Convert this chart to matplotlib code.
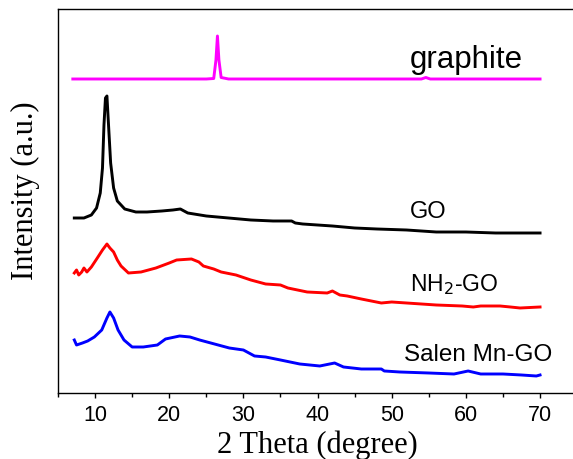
import matplotlib
matplotlib.use("Agg")
import matplotlib.pyplot as plt
from matplotlib.ticker import MultipleLocator

# XRD patterns, 2 theta (degree) vs intensity (a.u., curves stacked with offsets)
graphite_x = [7, 10, 15, 20, 25, 26.0, 26.3, 26.5, 26.7, 27.0, 28, 35, 45, 54, 54.6, 55.2, 60, 70]
graphite_y = [314, 314, 314, 314, 314, 314.5, 333, 357, 333, 315.5, 314, 314, 314, 314, 315.5, 314, 314, 314]

go_x = [7.2, 8.5, 9.5, 10.2, 10.7, 11.0, 11.2, 11.4, 11.6, 11.8, 12.1, 12.5, 13.0, 14.0, 15.5,
        17, 19, 20.5, 21.5, 22.5, 25, 28, 31, 34, 36.5, 37, 38, 42, 45, 48, 52, 56, 60, 64, 70]
go_y = [175, 175, 178, 185, 200, 225, 268, 295, 297, 270, 230, 205, 192, 184, 181,
        181, 182, 183, 184, 180, 177, 175, 173, 172, 172, 170, 169, 167, 165, 164, 163, 161, 161, 160, 160]

nh2_x = [7.2, 7.5, 7.8, 8.2, 8.5, 8.9, 9.5, 10.3, 11.0, 11.6, 12.0, 12.5, 13.0, 13.5, 14.5, 16.2,
         18.2, 20.0, 21, 23, 24, 24.6, 26, 27, 29, 31, 33, 35, 36, 38.6, 41.3, 42.0, 43.0, 44,
         45.9, 48.6, 50, 52, 54, 56, 59.5, 61, 62, 64.6, 66, 67.3, 70]
nh2_y = [120, 123, 118, 121, 125, 121, 126, 135, 143, 149, 145, 141, 133, 127, 120, 121,
         125, 130, 133, 134, 131, 127, 124, 121, 118, 113, 109, 108, 105, 101, 100, 102, 98, 97,
         94, 90, 91, 90, 89, 88, 87, 86, 87, 87, 86, 85, 86]

salen_x = [7.2, 7.5, 8.3, 9.0, 9.9, 10.9, 11.6, 12.0, 12.5, 13.1, 13.9, 15.0, 16.5, 18.4, 19.5,
           21.4, 22.8, 24.1, 26.1, 28.1, 30.0, 31.5, 33, 35, 37.6, 40.3, 42.3, 43.5, 45.9, 48.6,
           49, 51.1, 55, 58.4, 60.3, 62, 65, 67.5, 69.5, 70]
salen_y = [53, 48, 50, 52, 56, 63, 75, 81, 75, 63, 53, 46, 46, 48, 54,
           57, 56, 53, 49, 45, 43, 37, 36, 33, 29, 27, 30, 26, 24, 24,
           22, 21, 20, 19, 22, 19, 19, 18, 17, 18]

fig = plt.figure(figsize=(5.73, 4.59), dpi=100)
ax = fig.add_axes([0.1012, 0.1438, 0.906, 0.8366])

ax.plot(graphite_x, graphite_y, color="#ff00ff", lw=2.1)
ax.plot(go_x, go_y, color="black", lw=2.1)
ax.plot(nh2_x, nh2_y, color="#ff0000", lw=2.1)
ax.plot(salen_x, salen_y, color="#0000ff", lw=2.1)

# curve names
sans = "Liberation Sans"
ax.text(52.4, 333, "graphite", fontsize=22.5, family=sans, va="center", ha="left")
ax.text(52.4, 181, "GO", fontsize=17, family=sans, va="center", ha="left")
ax.text(52.4, 108, "NH$_2$-GO", fontsize=16.5, family=sans, va="center", ha="left")
ax.text(51.7, 38, "Salen Mn-GO", fontsize=17.5, family=sans, va="center", ha="left")

ax.set_xlim(5, 75)
ax.set_ylim(0, 384)
ax.xaxis.set_minor_locator(MultipleLocator(5))
ax.set_xticks([10, 20, 30, 40, 50, 60, 70])
ax.set_yticks([])
ax.tick_params(axis="x", which="major", direction="out", length=3.5, width=1, labelsize=15.5, pad=5)
ax.tick_params(axis="x", which="minor", direction="out", length=3, width=1)
for lbl in ax.get_xticklabels():
    lbl.set_family(sans)

ax.spines["right"].set_visible(False)
for s in ["left", "bottom", "top"]:
    ax.spines[s].set_linewidth(1)

ax.set_xlabel("2 Theta (degree)", family="Liberation Serif", fontsize=22)
ax.set_ylabel("Intensity (a.u.)", family="Liberation Serif", fontsize=22)
ax.yaxis.set_label_coords(-0.035, 0.526)
ax.xaxis.set_label_coords(0.5, -0.097)

fig.savefig("out.png", dpi=100)
